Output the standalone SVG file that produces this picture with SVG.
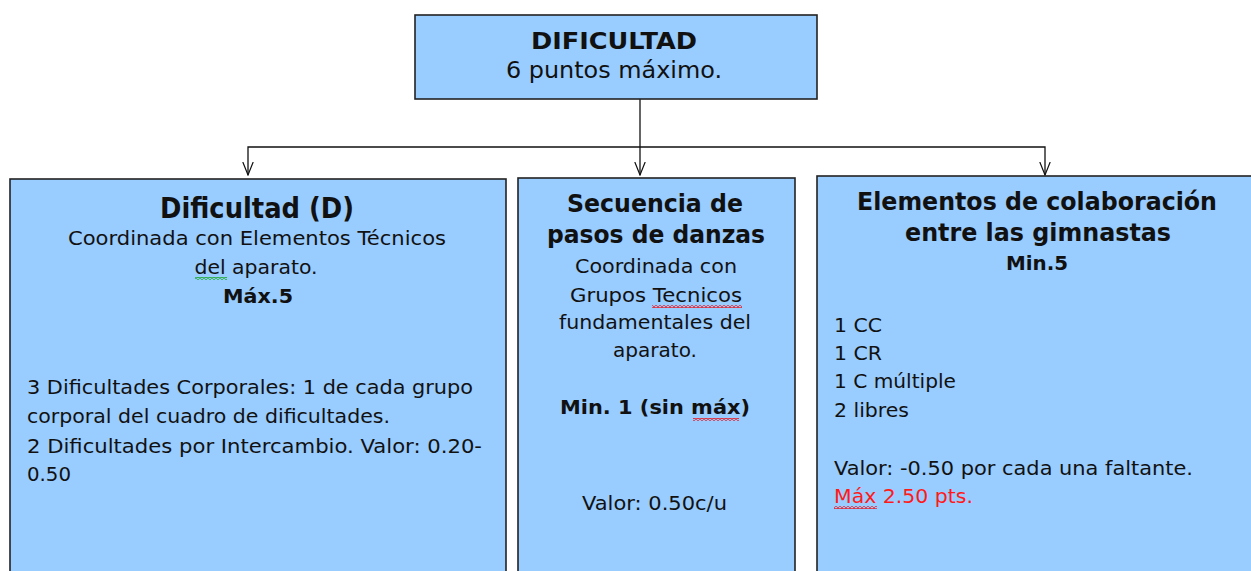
<svg xmlns="http://www.w3.org/2000/svg" width="1251" height="571" viewBox="0 0 1251 571">
<style>
  .box { fill: #99ccff; stroke: #222; stroke-width: 1.6; }
  .t { font-family: "DejaVu Sans", Verdana, sans-serif; fill: #111; }
  .c { text-anchor: middle; }
  .b { font-weight: bold; }
  .body { font-size: 20px; }
  .red { fill: #ff1a1a; }
  .conn { fill: none; stroke: #111; stroke-width: 1.3; }
</style>
<defs>
  <marker id="arr" markerUnits="userSpaceOnUse" markerWidth="14" markerHeight="14" viewBox="0 0 14 12" refX="13" refY="6" orient="auto">
    <path d="M0,0.8 L13,6 L0,11.2" fill="none" stroke="#111" stroke-width="1.2"/>
  </marker>
  <pattern id="wavyR" patternUnits="userSpaceOnUse" width="4" height="3">
    <path d="M0,2.5 L2,0.5 L4,2.5" fill="none" stroke="#e8202a" stroke-width="1.1"/>
  </pattern>
  <pattern id="wavyG" patternUnits="userSpaceOnUse" width="4" height="3">
    <path d="M0,2.5 L2,0.5 L4,2.5" fill="none" stroke="#22aa33" stroke-width="1.1"/>
  </pattern>
</defs>

<g id="connectors">
  <path class="conn" d="M640,99 V175" marker-end="url(#arr)"/>
  <path class="conn" d="M640,147 H248 V175" marker-end="url(#arr)"/>
  <path class="conn" d="M640,147 H1045 V175" marker-end="url(#arr)"/>
</g>

<g id="node-top">
  <rect class="box" x="415" y="15" width="402" height="84"/>
  <text class="t c b" x="614" y="49" font-size="23" textLength="166" lengthAdjust="spacingAndGlyphs">DIFICULTAD</text>
  <text class="t c" x="614" y="78" font-size="23" textLength="216" lengthAdjust="spacingAndGlyphs">6 puntos máximo.</text>
</g>

<g id="node-dificultad">
  <rect class="box" x="10" y="179" width="496" height="410"/>
  <text class="t c b" x="257" y="218" font-size="28" textLength="194" lengthAdjust="spacingAndGlyphs">Dificultad (D)</text>
  <text class="t c body" x="257" y="245" textLength="378" lengthAdjust="spacingAndGlyphs">Coordinada con Elementos Técnicos</text>
  <text class="t c body" x="256" y="274" textLength="123" lengthAdjust="spacingAndGlyphs">del aparato.</text>
  <rect x="195" y="277" width="32" height="3" fill="url(#wavyG)"/>
  <text class="t c b body" x="258" y="303" textLength="70" lengthAdjust="spacingAndGlyphs">Máx.5</text>
  <text class="t body" x="27" y="394" textLength="446" lengthAdjust="spacingAndGlyphs">3 Dificultades Corporales: 1 de cada grupo</text>
  <text class="t body" x="27" y="423" textLength="363" lengthAdjust="spacingAndGlyphs">corporal del cuadro de dificultades.</text>
  <text class="t body" x="27" y="453" textLength="455" lengthAdjust="spacingAndGlyphs">2 Dificultades por Intercambio. Valor: 0.20-</text>
  <text class="t body" x="27" y="481" textLength="44" lengthAdjust="spacingAndGlyphs">0.50</text>
</g>

<g id="node-secuencia">
  <rect class="box" x="518" y="178" width="277" height="410"/>
  <text class="t c b" x="655" y="212" font-size="25" textLength="176" lengthAdjust="spacingAndGlyphs">Secuencia de</text>
  <text class="t c b" x="656" y="243" font-size="25" textLength="218" lengthAdjust="spacingAndGlyphs">pasos de danzas</text>
  <text class="t c body" x="656" y="273" textLength="162" lengthAdjust="spacingAndGlyphs">Coordinada con</text>
  <text class="t c body" x="656" y="302" textLength="172" lengthAdjust="spacingAndGlyphs">Grupos Tecnicos</text>
  <rect x="652" y="305" width="90" height="3" fill="url(#wavyR)"/>
  <text class="t c body" x="655" y="329" textLength="192" lengthAdjust="spacingAndGlyphs">fundamentales del</text>
  <text class="t c body" x="655" y="357" textLength="84" lengthAdjust="spacingAndGlyphs">aparato.</text>
  <text class="t c b body" x="655" y="414" textLength="190" lengthAdjust="spacingAndGlyphs">Min. 1 (sin máx)</text>
  <rect x="693" y="418" width="46" height="3" fill="url(#wavyR)"/>
  <text class="t c body" x="654.5" y="510" textLength="145" lengthAdjust="spacingAndGlyphs">Valor: 0.50c/u</text>
</g>

<g id="node-elementos">
  <rect class="box" x="817" y="176" width="450" height="410"/>
  <text class="t c b" x="1037" y="210" font-size="25" textLength="360" lengthAdjust="spacingAndGlyphs">Elementos de colaboración</text>
  <text class="t c b" x="1038" y="241" font-size="25" textLength="266" lengthAdjust="spacingAndGlyphs">entre las gimnastas</text>
  <text class="t c b body" x="1037" y="270" textLength="62" lengthAdjust="spacingAndGlyphs">Min.5</text>
  <text class="t body" x="834" y="332" textLength="48" lengthAdjust="spacingAndGlyphs">1 CC</text>
  <text class="t body" x="834" y="360" textLength="48" lengthAdjust="spacingAndGlyphs">1 CR</text>
  <text class="t body" x="834" y="388" textLength="122" lengthAdjust="spacingAndGlyphs">1 C múltiple</text>
  <text class="t body" x="834" y="417" textLength="75" lengthAdjust="spacingAndGlyphs">2 libres</text>
  <text class="t body" x="834" y="475" textLength="359" lengthAdjust="spacingAndGlyphs">Valor: -0.50 por cada una faltante.</text>
  <text class="t body red" x="834" y="503" textLength="139" lengthAdjust="spacingAndGlyphs">Máx 2.50 pts.</text>
  <rect x="834" y="506" width="43" height="3" fill="url(#wavyR)"/>
</g>
</svg>
